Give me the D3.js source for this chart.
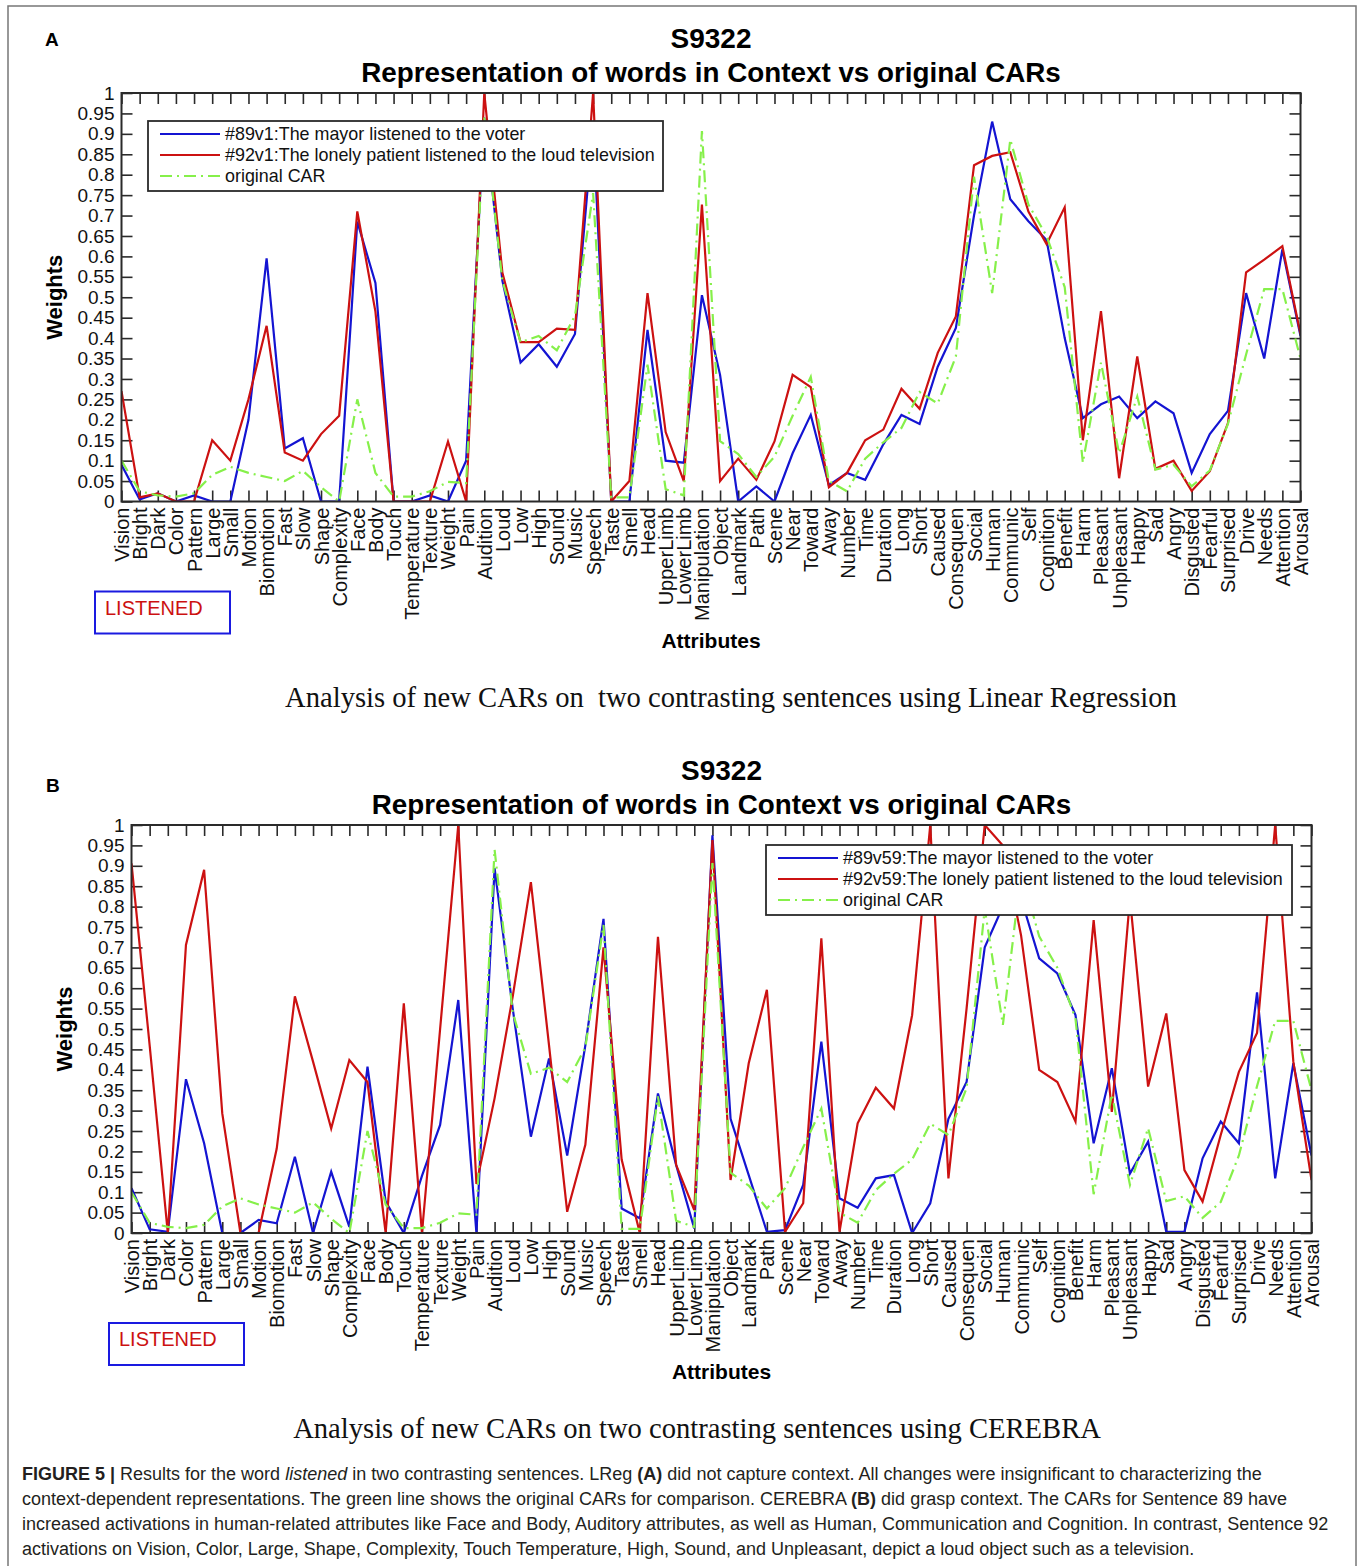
<!DOCTYPE html>
<html>
<head>
<meta charset="utf-8">
<script src="https://cdnjs.cloudflare.com/ajax/libs/d3/7.8.5/d3.min.js"></script>
<style>
  body { margin: 0; background: #fff; }
  svg { display: block; }
</style>
</head>
<body>
<script>
// attribute names along the x axis (same for both panels)
var attributes = ["Vision","Bright","Dark","Color","Pattern","Large","Small","Motion","Biomotion","Fast",
  "Slow","Shape","Complexity","Face","Body","Touch","Temperature","Texture","Weight","Pain",
  "Audition","Loud","Low","High","Sound","Music","Speech","Taste","Smell","Head",
  "UpperLimb","LowerLimb","Manipulation","Object","Landmark","Path","Scene","Near","Toward","Away",
  "Number","Time","Duration","Long","Short","Caused","Consequen","Social","Human","Communic",
  "Self","Cognition","Benefit","Harm","Pleasant","Unpleasant","Happy","Sad","Angry","Disgusted",
  "Fearful","Surprised","Drive","Needs","Attention","Arousal"];

var yTickValues = [0,0.05,0.1,0.15,0.2,0.25,0.3,0.35,0.4,0.45,0.5,0.55,0.6,0.65,0.7,0.75,0.8,0.85,0.9,0.95,1];
var yTickLabels = ["0","0.05","0.1","0.15","0.2","0.25","0.3","0.35","0.4","0.45","0.5",
  "0.55","0.6","0.65","0.7","0.75","0.8","0.85","0.9","0.95","1"];

// original CAR for "listened" (green line, shared by both panels)
var originalCAR = [0.1,0.025,0.015,0.012,0.02,0.065,0.085,0.07,0.06,0.05,
  0.075,0.035,0,0.25,0.07,0.012,0.012,0.025,0.048,0.045,
  0.94,0.54,0.39,0.405,0.37,0.455,0.755,0.01,0.01,0.335,
  0.03,0.015,0.907,0.148,0.116,0.06,0.11,0.21,0.305,0.05,
  0.025,0.105,0.145,0.18,0.268,0.24,0.355,0.795,0.51,0.886,
  0.727,0.65,0.525,0.095,0.34,0.118,0.257,0.078,0.09,0.037,
  0.076,0.19,0.36,0.52,0.52,0.35];

// panel A: linear regression
var lregMayor = [0.09,0.005,0.02,0,0.015,0,0,0.2,0.595,0.13,
  0.155,0,0,0.685,0.535,0,0,0.015,0,0.1,
  0.94,0.54,0.34,0.385,0.33,0.41,0.92,0,0,0.42,
  0.1,0.095,0.505,0.31,0,0.037,0,0.118,0.212,0.04,
  0.07,0.053,0.14,0.212,0.19,0.33,0.425,0.7,0.93,0.74,
  0.686,0.64,0.4,0.204,0.238,0.257,0.204,0.245,0.216,0.07,
  0.165,0.222,0.51,0.35,0.617,0.405];
var lregPatient = [0.27,0.01,0.02,0,0,0.15,0.1,0.25,0.43,0.12,
  0.1,0.165,0.21,0.71,0.465,0,0,0,0.147,0,
  1.0,0.56,0.39,0.39,0.423,0.42,1.0,0,0.05,0.51,
  0.17,0.05,0.727,0.05,0.105,0.053,0.147,0.31,0.28,0.035,
  0.07,0.15,0.176,0.276,0.227,0.364,0.453,0.823,0.846,0.855,
  0.71,0.63,0.72,0.15,0.466,0.057,0.355,0.08,0.1,0.026,
  0.074,0.192,0.561,0.592,0.625,0.41];

// panel B: CEREBRA
var cerebraMayor = [0.11,0.009,0.003,0.377,0.22,0,0,0.032,0.024,0.187,
  0,0.15,0.015,0.408,0.077,0,0.14,0.265,0.571,0,
  0.894,0.55,0.236,0.428,0.19,0.46,0.77,0.06,0.036,0.342,
  0.167,0.011,0.975,0.28,0.142,0.003,0.007,0.118,0.469,0.085,
  0.062,0.134,0.142,0,0.073,0.28,0.37,0.7,0.8,0.82,
  0.673,0.636,0.534,0.22,0.404,0.146,0.224,0.003,0.003,0.183,
  0.273,0.22,0.59,0.134,0.416,0.19];
var cerebraPatient = [0.906,0.46,0,0.706,0.89,0.293,0,0,0.207,0.58,
  0.42,0.256,0.424,0.37,0,0.563,0,0.5,1.0,0.12,
  0.33,0.58,0.86,0.46,0.052,0.216,0.7,0.18,0,0.726,
  0.167,0.056,0.963,0.13,0.416,0.596,0.003,0.073,0.722,0.003,
  0.269,0.356,0.305,0.534,1.0,0.134,0.55,1.0,0.95,0.73,
  0.4,0.37,0.273,0.767,0.297,0.82,0.359,0.538,0.154,0.077,
  0.24,0.395,0.49,1.0,0.42,0.13];

var BLUE = "#1414d2", RED = "#cc1111", GREEN = "#86f04a";
var SANS = "'Liberation Sans', Arial, Helvetica, sans-serif";

var svg = d3.select("body").append("svg")
    .attr("width", 1360)
    .attr("height", 1566);

// outer frame of the figure
svg.append("rect")
    .attr("x", 8).attr("y", 6)
    .attr("width", 1348).attr("height", 1600)
    .attr("fill", "none").attr("stroke", "#777").attr("stroke-width", 1.5);

function drawPanel(p) {
    var x = d3.scalePoint().domain(attributes).range([p.left, p.right]);
    var y = d3.scaleLinear().domain([0, 1]).range([p.bottom, p.top]);
    var g = svg.append("g");
    var cx = (p.left + p.right) / 2;

    // panel letter and titles
    g.append("text").attr("x", p.letterX).attr("y", p.letterY)
        .style("font", "bold 19px " + SANS).text(p.letter);
    g.append("text").attr("x", cx).attr("y", p.top - 45)
        .attr("text-anchor", "middle").style("font", "bold 28px " + SANS).text("S9322");
    g.append("text").attr("x", cx).attr("y", p.top - 11)
        .attr("text-anchor", "middle").style("font", "bold 27.8px " + SANS)
        .text("Representation of words in Context vs original CARs");

    // axes with inward ticks on all four sides
    var left = g.append("g").attr("transform", "translate(" + p.left + ",0)")
        .call(d3.axisLeft(y).tickValues(yTickValues)
            .tickFormat(function(d, i) { return yTickLabels[i]; })
            .tickSizeInner(-11).tickSizeOuter(0).tickPadding(7));
    left.selectAll("text").style("font", "19px " + SANS).attr("fill", "#111");
    g.append("g").attr("transform", "translate(" + p.right + ",0)")
        .call(d3.axisRight(y).tickValues(yTickValues).tickFormat("")
            .tickSizeInner(-11).tickSizeOuter(0));
    var bottom = g.append("g").attr("transform", "translate(0," + p.bottom + ")")
        .call(d3.axisBottom(x).tickSizeInner(-11).tickSizeOuter(0));
    bottom.selectAll("text")
        .attr("transform", "rotate(-90)")
        .attr("x", -6).attr("y", 0).attr("dy", "0.35em")
        .style("text-anchor", "end")
        .style("font", "20px " + SANS).attr("fill", "#111");
    g.append("g").attr("transform", "translate(0," + p.top + ")")
        .call(d3.axisTop(x).tickFormat("").tickSizeInner(-11).tickSizeOuter(0));
    g.selectAll(".domain").remove();
    g.selectAll(".tick line").attr("stroke", "#2a2a2a").attr("stroke-width", 1.6);

    // clip lines to the plot box
    g.append("clipPath").attr("id", "clip" + p.letter)
      .append("rect")
        .attr("x", p.left).attr("y", p.top)
        .attr("width", p.right - p.left).attr("height", p.bottom - p.top);

    var line = d3.line()
        .x(function(d, i) { return x(attributes[i]); })
        .y(function(d) { return y(d); });

    var series = [
        {values: p.mayor, color: BLUE, dash: null, label: p.mayorLabel},
        {values: p.patient, color: RED, dash: null, label: p.patientLabel},
        {values: originalCAR, color: GREEN, dash: "12,5,2,5", label: "original CAR"}
    ];
    var lines = g.append("g").attr("clip-path", "url(#clip" + p.letter + ")");
    series.forEach(function(s) {
        lines.append("path")
            .attr("d", line(s.values))
            .attr("fill", "none")
            .attr("stroke", s.color)
            .attr("stroke-width", 2.2)
            .attr("stroke-linejoin", "miter")
            .attr("stroke-dasharray", s.dash);
    });

    // plot border
    g.append("rect")
        .attr("x", p.left).attr("y", p.top)
        .attr("width", p.right - p.left).attr("height", p.bottom - p.top)
        .attr("fill", "none").attr("stroke", "#2a2a2a").attr("stroke-width", 2);

    // legend box drawn over the lines
    var lg = g.append("g").attr("transform", "translate(" + p.legendX + "," + p.legendY + ")");
    lg.append("rect").attr("width", p.legendW).attr("height", 70)
        .attr("fill", "#fff").attr("stroke", "#2a2a2a").attr("stroke-width", 1.8);
    series.forEach(function(s, i) {
        var ry = 13 + i * 21;
        lg.append("line").attr("x1", 12).attr("x2", 72).attr("y1", ry).attr("y2", ry)
            .attr("stroke", s.color).attr("stroke-width", 2.2)
            .attr("stroke-dasharray", s.dash);
        lg.append("text").attr("x", 77).attr("y", ry).attr("dy", "0.36em")
            .style("font", "17.9px " + SANS).attr("fill", "#111").text(s.label);
    });

    // axis titles
    g.append("text")
        .attr("transform", "translate(" + p.weightsX + "," + ((p.top + p.bottom) / 2) + ") rotate(-90)")
        .attr("text-anchor", "middle")
        .style("font", "bold 22px " + SANS).text("Weights");
    g.append("text").attr("x", cx).attr("y", p.bottom + 146)
        .attr("text-anchor", "middle").style("font", "bold 21px " + SANS).text("Attributes");

    // the word box
    g.append("rect").attr("x", p.boxX).attr("y", p.bottom + 90)
        .attr("width", 135).attr("height", 42)
        .attr("fill", "none").attr("stroke", "#1a1ae0").attr("stroke-width", 2);
    g.append("text").attr("x", p.boxX + 10).attr("y", p.bottom + 113)
        .style("font", "20px " + SANS).attr("fill", "#cc1111").text("LISTENED");

    // method subtitle
    g.append("text").attr("x", p.subX).attr("y", p.bottom + 205)
        .attr("text-anchor", "middle")
        .attr("xml:space", "preserve")
        .style("white-space", "pre")
        .style("font", "28.6px 'Liberation Serif', 'Times New Roman', serif")
        .attr("fill", "#111")
        .text(p.subtitle);
}

drawPanel({
    letter: "A", letterX: 45, letterY: 46,
    left: 121.5, right: 1300.5, top: 93, bottom: 501.5,
    mayor: lregMayor, patient: lregPatient,
    mayorLabel: "#89v1:The mayor listened to the voter",
    patientLabel: "#92v1:The lonely patient listened to the loud television",
    legendX: 148, legendY: 121, legendW: 515,
    weightsX: 62, boxX: 95, subX: 731,
    subtitle: "Analysis of new CARs on  two contrasting sentences using Linear Regression"
});

drawPanel({
    letter: "B", letterX: 46, letterY: 792,
    left: 131.5, right: 1311.5, top: 825, bottom: 1233,
    mayor: cerebraMayor, patient: cerebraPatient,
    mayorLabel: "#89v59:The mayor listened to the voter",
    patientLabel: "#92v59:The lonely patient listened to the loud television",
    legendX: 766, legendY: 845, legendW: 526,
    weightsX: 72, boxX: 109, subX: 697,
    subtitle: "Analysis of new CARs on two contrasting sentences using CEREBRA"
});

// figure caption
var caption = [
    [["b", "FIGURE 5 | "], ["", "Results for the word "], ["i", "listened"], ["", " in two contrasting sentences. LReg "], ["b", "(A)"], ["", " did not capture context. All changes were insignificant to characterizing the"]],
    [["", "context-dependent representations. The green line shows the original CARs for comparison. CEREBRA "], ["b", "(B)"], ["", " did grasp context. The CARs for Sentence 89 have"]],
    [["", "increased activations in human-related attributes like Face and Body, Auditory attributes, as well as Human, Communication and Cognition. In contrast, Sentence 92"]],
    [["", "activations on Vision, Color, Large, Shape, Complexity, Touch Temperature, High, Sound, and Unpleasant, depict a loud object such as a television."]]
];
caption.forEach(function(row, i) {
    var t = svg.append("text").attr("x", 22).attr("y", 1480 + i * 25)
        .attr("xml:space", "preserve")
        .style("font", "18px " + SANS).attr("fill", "#231f20");
    row.forEach(function(seg) {
        var sp = t.append("tspan").text(seg[1]);
        if (seg[0] === "b") sp.style("font-weight", "bold");
        if (seg[0] === "i") sp.style("font-style", "italic");
    });
});
</script>
</body>
</html>
